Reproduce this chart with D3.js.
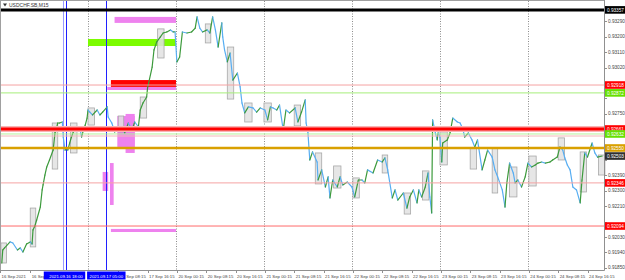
<!DOCTYPE html>
<html>
<head>
<meta charset="utf-8">
<script src="https://cdn.jsdelivr.net/npm/d3@7"></script>
<style>
  body { margin: 0; background: #fff; }
  svg { display: block; font-family: "Liberation Sans", Arial, sans-serif; }
</style>
</head>
<body>
<svg id="chart" width="625" height="280"></svg>
<script>
// ---- data (time = trading hours since 16 Sep 2021 00:00) ----
const hours = [
  0.5,0.75,1.25,2.75,3.5,4.75,5.5,6.25,7.25,8.25,8.75,9,9.5,10,11,11.5,11.75,12.25,12.75,13.5,
  14.5,15,15.5,15.75,16.25,17,17.25,17.75,18.25,18.5,19,19.5,20,20.5,21,21.75,22.25,22.75,23.25,23.75,
  24,24.5,25.25,26.5,27.25,28,29.25,29.5,30.5,31.25,32.25,33.25,34,35,36,36.75,37.75,38.25,39,40,
  40.25,41.5,42,42.75,43.75,44.5,45.5,46.5,47.25,47.75,
  48.25,49,49.75,51,52.25,53.25,53.75,54.5,55.25,56.5,57.25,58,58.75,59.5,60.5,60.75,61.25,62,62.75,63.5,
  64.75,65.5,66,66.75,67.75,69,70,71,
  72.25,73,73.75,74.5,75.5,76.25,77.25,78,79,80.5,81.25,82.25,83.25,83.5,84,84.5,85.25,86.5,86.75,87.75,
  88.75,89.5,90,90.75,92,92.75,93.5,94.75,
  96,96.75,97.75,98.75,99.5,100.25,101.75,103,104.25,105,105.75,107,107.75,108.5,110,111,111.75,112.75,113.75,114.25,
  115,116,116.75,117.25,117.75,118,118.75,119.25,119.5,
  120,120.5,120.75,122,122.75,123.5,124.75,125.5,126.25,126.75,127.75,128.75,129.5,130.25,131.5,132.25,133,134.25,135,135.75,
  137,137.75,138.25,139,140,140.5,141.25,142.25,143.25,
  144,145,146,146.75,147.75,148.75,150,150.75,152,152.75,153.5,154,154.75,155.5,156.25,157.25,158.25,158.75,159.5,160.25,
  161.5,162.25,163,164.25
];
const closes = [
  0.91878,0.91954,0.91966,0.92001,0.91995,0.91954,0.91966,0.91942,0.91989,0.92001,0.91989,0.92071,0.92094,0.92129,0.92205,0.92305,0.92334,0.92392,0.92439,0.92480,
  0.92538,0.92638,0.92673,0.92696,0.92696,0.92702,0.92614,0.92538,0.92550,0.92538,0.92579,0.92614,0.92644,0.92673,0.92655,0.92673,0.92614,0.92655,0.92684,0.92725,
  0.92772,0.92760,0.92743,0.92772,0.92743,0.92760,0.92790,0.92731,0.92696,0.92644,0.92655,0.92673,0.92638,0.92696,0.92655,0.92702,0.92673,0.92772,0.92813,0.92848,
  0.92901,0.93023,0.93123,0.93170,0.93199,0.93222,0.93228,0.93240,0.93228,0.93228,
  0.93053,0.93082,0.93228,0.93222,0.93228,0.93251,0.93316,0.93251,0.93228,0.93240,0.93222,0.93316,0.93240,0.93140,0.93281,0.93199,0.93123,0.93053,0.93105,0.92947,
  0.92988,0.92907,0.92813,0.92755,0.92790,0.92784,0.92760,0.92784,
  0.92772,0.92714,0.92790,0.92784,0.92772,0.92801,0.92655,0.92772,0.92755,0.92784,0.92702,0.92760,0.92831,0.92696,0.92638,0.92480,0.92527,0.92468,0.92363,0.92422,
  0.92322,0.92381,0.92258,0.92363,0.92322,0.92381,0.92334,0.92351,
  0.92322,0.92264,0.92363,0.92363,0.92346,0.92422,0.92404,0.92480,0.92468,0.92492,0.92422,0.92258,0.92305,0.92246,0.92287,0.92199,0.92264,0.92305,0.92229,0.92305,
  0.92264,0.92322,0.92404,0.92264,0.92170,0.92714,0.92638,0.92597,0.92638,
  0.92614,0.92468,0.92579,0.92597,0.92638,0.92725,0.92702,0.92696,0.92661,0.92614,0.92638,0.92597,0.92556,0.92597,0.92422,0.92480,0.92538,0.92497,0.92422,0.92381,
  0.92305,0.92205,0.92346,0.92462,0.92404,0.92346,0.92363,0.92322,0.92381,
  0.92462,0.92439,0.92451,0.92462,0.92468,0.92462,0.92468,0.92480,0.92497,0.92556,0.92538,0.92497,0.92451,0.92422,0.92322,0.92305,0.92229,0.92363,0.92521,0.92497,
  0.92579,0.92521,0.92497,0.92503
];

// grey range boxes
const boxStart = [0.25,8.25,14.25,19.25,24,32.25,38.25,43,56,62,66.75,72,80.25,86,91,96.25,104.25,110.25,115.25,120,128.25,134.25,139,144.25,152.25,158.25,163.25];
const boxEnd   = [1.75,9.75,15.75,21,25.75,33.75,40,44.75,57.5,63.75,68.75,74,82,87.75,93,98,105.75,112,117,122,130,135.75,141,146.25,154,160,165];
const boxHigh  = [0.91995,0.92199,0.92696,0.92696,0.92784,0.92737,0.92848,0.93246,0.93275,0.93140,0.92813,0.92813,0.92801,0.92521,0.92445,0.92375,0.92509,0.92287,0.92416,0.92644,0.92550,0.92550,0.92439,0.92503,0.92609,0.92527,0.92509];
const boxLow   = [0.91878,0.91972,0.92427,0.92521,0.92684,0.92644,0.92725,0.93076,0.93164,0.92836,0.92702,0.92702,0.92679,0.92340,0.92316,0.92258,0.92404,0.92164,0.92246,0.92451,0.92427,0.92287,0.92264,0.92328,0.92480,0.92293,0.92392];

// coloured zones
const zoneKind   = ["violet","lime","violet","red","violet","violet","violet","violet","violet"];
const zoneStart  = [31.25, 24, 29.25, 30.25, 32, 34.25, 28, 30, 30.25];
const zoneEnd    = [48, 48, 48, 48, 36.75, 36.75, 29.5, 31, 48];
const zoneTop    = [0.93316, 0.93187, 0.92907, 0.92947, 0.92737, 0.92749, 0.92410, 0.92462, 0.92077];
const zoneBottom = [0.93281, 0.93146, 0.92889, 0.92907, 0.92556, 0.92521, 0.92299, 0.92217, 0.92059];

// horizontal levels
const levelPrices = [0.93357, 0.92918, 0.92872, 0.92661, 0.92632, 0.92620, 0.92550, 0.92346, 0.92094];
const levelLabels = ["0.93357","0.92918","0.92872","0.92661","0.92632","","0.92550","0.92346","0.92094"];
const lastPrice = 0.92503;

// axes
const priceTicks = ["0.93380","0.93290","0.93200","0.93110","0.93020","0.92930","0.92840","0.92750","0.92660",
  "0.92570","0.92480","0.92390","0.92300","0.92210","0.92120","0.92030","0.91940","0.91850"];
// the visible part of each label (the blue time tags cover the rest)
const timeTickHours = [0,8.25,32.25,40.25,48.25,56.25,64.25,72.25,80.25,88.25,96.25,104.25,112.25,120.25,128.25,136.25,144.25,152.25,160.25];
const timeTickLabels = ["16 Sep 2021","16 Sep","Sep 08:15","17 Sep 16:15",
  "20 Sep 00:15","20 Sep 08:15","20 Sep 16:15","21 Sep 00:15","21 Sep 08:15","21 Sep 16:15","22 Sep 00:15",
  "22 Sep 08:15","22 Sep 16:15","23 Sep 00:15","23 Sep 08:15","23 Sep 16:15","24 Sep 00:15","24 Sep 08:15","24 Sep 16:15"];
const dayBreaks = [24, 48, 72, 96, 120, 144];
const markerHours = [17.25, 18, 29];
const markerLabels = ["", "2021.09.16 18:00", "2021.09.17 05:00"];

// ---- styles ----
const zoneColor = { violet: "#ee82ee", lime: "#7cfc00", red: "#ff0000" };
const levelStyle = [
  { color: "#000000", width: 3,   bg: "#000000" },
  { color: "#f5a3a3", width: 1,   bg: "#ff0000" },
  { color: "#a6ee7a", width: 1,   bg: "#66e000" },
  { color: "#ff0000", width: 3,   bg: "#ff0000", halo: "#f8b4b4" },
  { color: "#b6f09a", width: 1,   bg: "#66e000" },
  { color: "#f5b8b8", width: 1,   bg: null },
  { color: "#d9a000", width: 2.5, bg: "#d9a000" },
  { color: "#f5a3a3", width: 1,   bg: "#ff0000" },
  { color: "#ff6b6b", width: 1,   bg: "#ff0000" }
];
const upColor = "#3c9a3c", downColor = "#58aef2";
const textColor = "#444";

const W = 625, H = 280;
const plot = { left: 0, right: 604, top: 1, bottom: 270 };
const svg = d3.select("#chart");
const x = d3.scaleLinear().domain([0, 164.75]).range([plot.left, plot.right]);
const y = d3.scaleLinear().domain([0.91837, 0.93409]).range([plot.bottom, plot.top]);
const px = v => Math.round(v) + 0.5;

svg.append('rect').attr('width', W).attr('height', H).attr('fill', "#fff");

// day separators
svg.append('g').selectAll('line').data(dayBreaks).join('line')
    .attr('x1', d => px(x(d))).attr('x2', d => px(x(d)))
    .attr('y1', plot.top).attr('y2', plot.bottom)
    .attr('stroke', "#8c8c8c").attr('stroke-width', 1)
    .attr('stroke-dasharray', "1,1.5");

// zones
svg.append('g').selectAll('rect').data(d3.range(zoneKind.length)).join('rect')
    .attr('x', i => x(zoneStart[i]))
    .attr('width', i => x(zoneEnd[i]) - x(zoneStart[i]))
    .attr('y', i => y(zoneTop[i]))
    .attr('height', i => y(zoneBottom[i]) - y(zoneTop[i]))
    .attr('fill', i => zoneColor[zoneKind[i]]);

// grey range boxes
svg.append('g').selectAll('rect').data(d3.range(boxStart.length)).join('rect')
    .attr('x', i => x(boxStart[i]))
    .attr('width', i => x(boxEnd[i]) - x(boxStart[i]))
    .attr('y', i => y(boxHigh[i]))
    .attr('height', i => y(boxLow[i]) - y(boxHigh[i]))
    .attr('fill', "#e2e2e2").attr('fill-opacity', 0.85)
    .attr('stroke', "#a8a8a8").attr('stroke-width', 0.8);

// vertical blue markers
svg.append('g').selectAll('line').data(markerHours).join('line')
    .attr('x1', d => px(x(d))).attr('x2', d => px(x(d)))
    .attr('y1', plot.top).attr('y2', plot.bottom)
    .attr('stroke', (d, i) => i === 0 ? "#9a9aff" : "#2020ff").attr('stroke-width', 1);

// price path, coloured by direction
const pts = hours.map((h, i) => [x(h), y(closes[i])]);
svg.append('g').selectAll('line').data(d3.pairs(pts)).join('line')
    .attr('x1', d => d[0][0]).attr('y1', d => d[0][1])
    .attr('x2', d => d[1][0]).attr('y2', d => d[1][1])
    .attr('stroke', d => d[1][1] <= d[0][1] ? upColor : downColor)
    .attr('stroke-width', 1.2)
    .attr('stroke-linecap', "round");

// horizontal levels
const lv = svg.append('g');
levelPrices.forEach((p, i) => {
    const s = levelStyle[i];
    if (s.halo) {
        lv.append('line').attr('x1', plot.left).attr('x2', plot.right)
            .attr('y1', y(p)).attr('y2', y(p))
            .attr('stroke', s.halo).attr('stroke-width', 6);
    }
    lv.append('line').attr('x1', plot.left).attr('x2', plot.right)
        .attr('y1', y(p)).attr('y2', y(p))
        .attr('stroke', s.color).attr('stroke-width', s.width);
});

// frame
svg.append('line').attr('x1', 0).attr('x2', plot.right).attr('y1', 0.5).attr('y2', 0.5).attr('stroke', "#a0a0a0");
svg.append('line').attr('x1', 0.5).attr('x2', 0.5).attr('y1', 0).attr('y2', plot.bottom).attr('stroke', "#a0a0a0");
svg.append('line').attr('x1', plot.right + 0.5).attr('x2', plot.right + 0.5).attr('y1', 0).attr('y2', plot.bottom + 0.5).attr('stroke', "#909090");
svg.append('line').attr('x1', 0).attr('x2', plot.right + 0.5).attr('y1', plot.bottom + 0.5).attr('y2', plot.bottom + 0.5).attr('stroke', "#909090");

// price axis (tick labels that sit under a coloured tag are covered, so not drawn)
const tagPrices = levelPrices.filter((p, i) => levelStyle[i].bg).concat([lastPrice]);
const shownTicks = priceTicks.filter(t => tagPrices.every(p => Math.abs(y(+t) - y(p)) > 7));
const pa = svg.append('g');
pa.selectAll('line').data(priceTicks).join('line')
    .attr('x1', plot.right).attr('x2', plot.right + 3)
    .attr('y1', d => px(y(+d))).attr('y2', d => px(y(+d)))
    .attr('stroke', "#909090");
pa.selectAll('text').data(shownTicks).join('text')
    .attr('x', plot.right + 4).attr('y', d => y(+d))
    .attr('dy', "0.35em")
    .attr('font-size', 4.7).attr('fill', textColor)
    .text(d => d);

// coloured price labels
function priceTag(p, label, bg) {
    const g = svg.append('g');
    g.append('rect').attr('x', plot.right + 1).attr('y', y(p) - 3.8)
        .attr('width', 20).attr('height', 7.6).attr('fill', bg);
    g.append('text').attr('x', plot.right + 3).attr('y', y(p)).attr('dy', "0.35em")
        .attr('font-size', 4.7).attr('fill', "#fff").text(label);
}
levelPrices.forEach((p, i) => { if (levelStyle[i].bg) priceTag(p, levelLabels[i], levelStyle[i].bg); });
priceTag(lastPrice, lastPrice.toFixed(5), "#303030");

// time axis
const ta = svg.append('g');
ta.selectAll('line').data(timeTickHours).join('line')
    .attr('x1', d => px(x(d))).attr('x2', d => px(x(d)))
    .attr('y1', plot.bottom).attr('y2', plot.bottom + 3)
    .attr('stroke', "#909090");
ta.selectAll('text').data(timeTickHours).join('text')
    .attr('x', (d, i) => x(d) + (i === 2 ? 8 : 1.5)).attr('y', 277.5)
    .attr('font-size', 4.3).attr('fill', textColor)
    .text((d, i) => timeTickLabels[i]);

// marker labels
markerHours.forEach((h, i) => {
    if (!markerLabels[i]) return;
    const g = svg.append('g');
    const t = g.append('text').attr('x', x(h)).attr('y', 277.5)
        .attr('text-anchor', "middle").attr('font-size', 4.3).attr('fill', "#fff")
        .text(markerLabels[i]);
    const w = t.node().getComputedTextLength() + 5;
    g.insert('rect', "text").attr('x', x(h) - w / 2 - (i === 1 ? 3 : 0)).attr('y', 271.5)
        .attr('width', w + (i === 1 ? 3 : 0)).attr('height', 8).attr('fill', "#0000ff");
});

// title
svg.append('path').attr('d', "M3,3.5 L7,3.5 L5,6.5 Z").attr('fill', "#333");
svg.append('text').attr('x', 9).attr('y', 7).attr('font-size', 5).attr('fill', "#333")
    .text("USDCHF.SB,M15");
</script>
</body>
</html>
